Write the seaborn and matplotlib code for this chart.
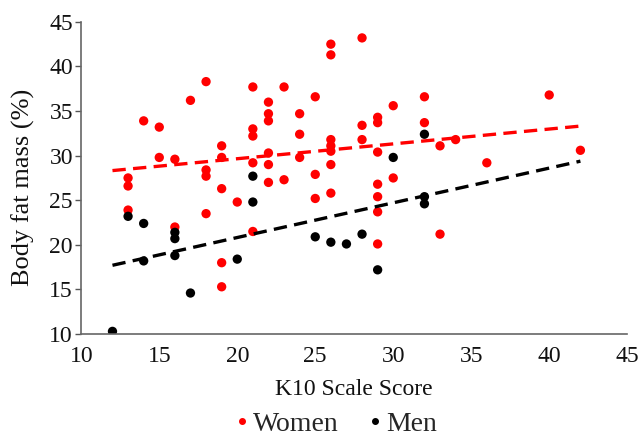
import numpy as np
import pandas as pd
import matplotlib
matplotlib.use("Agg")
import matplotlib.pyplot as plt
import seaborn as sns

# K10 score vs body fat mass
women_k10 = [13, 13, 13, 14, 15, 15, 16, 16, 17, 18, 18, 18, 18, 19, 19, 19, 19, 19,
             20, 21, 21, 21, 21, 21, 22, 22, 22, 22, 22, 22, 23, 23, 24, 24, 24,
             25, 25, 25, 26, 26, 26, 26, 26, 26, 26, 28, 28, 28, 29, 29, 29, 29, 29,
             29, 29, 30, 30, 32, 32, 33, 33, 34, 36, 40, 42]
women_fat = [27.5, 26.6, 23.9, 33.9, 33.2, 29.8, 29.6, 22.0, 36.2, 38.3, 28.4, 27.7, 23.5,
             31.1, 29.8, 26.3, 18.0, 15.3, 24.8, 37.7, 33.0, 32.2, 29.2, 21.5, 36.0, 34.7,
             33.9, 30.3, 29.0, 27.0, 37.7, 27.3, 34.7, 32.4, 29.8, 36.6, 27.9, 25.2, 42.5,
             41.3, 31.8, 31.1, 30.5, 29.0, 25.8, 43.2, 33.4, 31.8, 34.3, 33.7, 30.4, 26.8,
             25.4, 23.7, 20.1, 35.6, 27.5, 36.6, 33.7, 31.1, 21.2, 31.8, 29.2, 36.8, 30.6]
men_k10 = [12, 13, 14, 14, 16, 16, 16, 17, 20, 21, 21, 25, 26, 27, 28, 29, 30, 32, 32, 32]
men_fat = [10.3, 23.2, 22.4, 18.2, 21.4, 20.7, 18.8, 14.6, 18.4, 24.8, 27.7, 20.9, 20.3,
           20.1, 21.2, 17.2, 29.8, 32.4, 25.4, 24.6]

groups = ["Women", "Men"]
colors = {"Women": "#ff0000", "Men": "#000000"}
fit_range = [12, 42]

df = pd.concat([
    pd.DataFrame({"k10": women_k10, "fat": women_fat, "sex": "Women"}),
    pd.DataFrame({"k10": men_k10, "fat": men_fat, "sex": "Men"}),
])

sns.set_style("white")
plt.rcParams["font.family"] = ["Liberation Serif", "DejaVu Serif"]

fig = plt.figure(figsize=(6.4, 4.46), dpi=100)
ax = fig.add_axes([0.127, 0.251, 0.853, 0.70])

sns.scatterplot(data=df, x="k10", y="fat", hue="sex", palette=colors,
                hue_order=groups, s=45, edgecolor="none", ax=ax, legend=False)

# linear fit per group, drawn over the common x range
for g in groups:
    sub = df[df["sex"] == g]
    b, a = np.polyfit(sub["k10"], sub["fat"], 1)
    xs = np.array(fit_range)
    ax.plot(xs, a + b * xs, ls=(0, (4, 2.2)), lw=2.4, color=colors[g])

ax.set_xlim(10, 45)
ax.set_ylim(10, 45)
ax.set_xticks(range(10, 46, 5))
ax.set_yticks(range(10, 46, 5))
ax.tick_params(axis="both", labelsize=17, colors="#111111")
ax.tick_params(axis="y", left=True, length=4, width=1, color="#555555", pad=2)
ax.tick_params(axis="x", bottom=False, pad=5)
for side in ["top", "right"]:
    ax.spines[side].set_visible(False)
for side in ["left", "bottom"]:
    ax.spines[side].set_color("#666666")
    ax.spines[side].set_linewidth(1.2)

ax.set_xlabel("K10 Scale Score", fontsize=17, labelpad=9, color="#111111")
ax.set_ylabel("Body fat mass (%)", fontsize=19, color="#111111")
ax.yaxis.set_label_coords(-0.085, 0.47)

handles = [plt.Line2D([], [], marker="o", ls="", ms=4, color=colors[g]) for g in groups]
fig.legend(handles, groups, loc="lower center", bbox_to_anchor=(0.52, -0.035), ncol=2,
           frameon=False, fontsize=20, handletextpad=-0.1, columnspacing=0.8,
           handlelength=1.0)

fig.savefig("out.png", dpi=100)
